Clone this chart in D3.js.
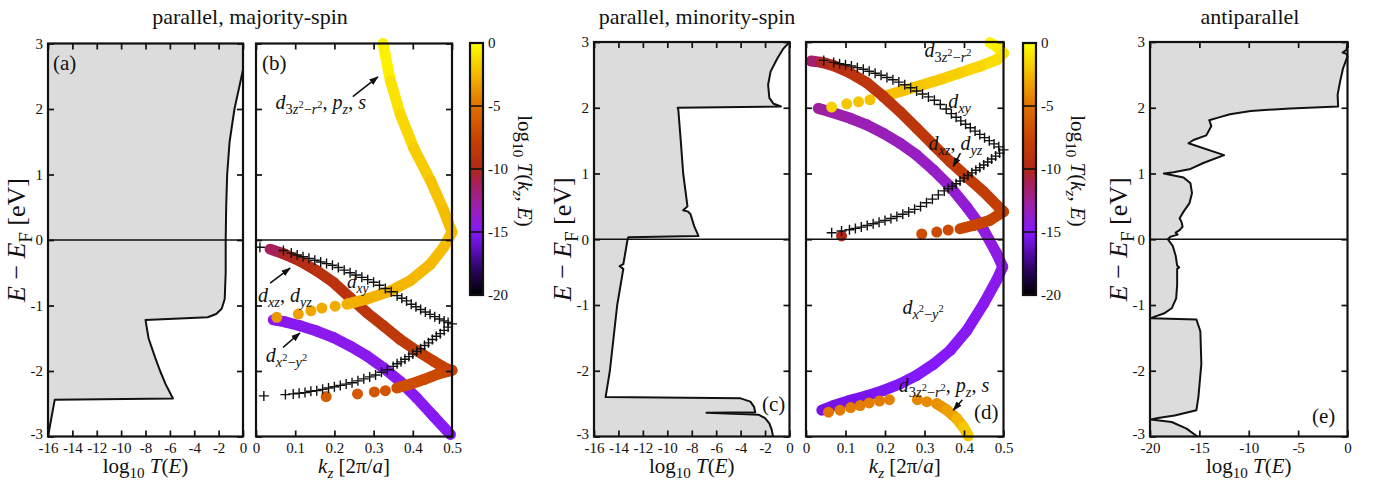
<!DOCTYPE html>
<html>
<head>
<meta charset="utf-8">
<script src="https://cdn.jsdelivr.net/npm/d3@7"></script>
<style>
  body { margin: 0; background: #fff; }
  svg { display: block; }
  text { font-family: "Liberation Serif", "Times New Roman", serif; fill: #111; }
</style>
</head>
<body>
<svg id="chart" width="1385" height="494"></svg>
<script>
// ---------- data ----------
// (a) parallel, majority-spin: log10 T(E)
const aE = [3.0, 2.6, 2.3, 2.0, 1.5, 1.0, 0.5, 0.0, -0.5, -0.9, -1.05, -1.13, -1.18, -1.22, -1.5, -1.8, -2.0, -2.2, -2.42, -2.44, -3.0];
const aT = [0, 0, -0.35, -0.7, -1.1, -1.3, -1.38, -1.42, -1.42, -1.5, -1.75, -2.2, -2.9, -8.0, -7.75, -7.2, -6.8, -6.35, -5.75, -15.45, -16];

// (c) parallel, minority-spin: log10 T(E)
const cE = [3.0, 2.9, 2.75, 2.55, 2.35, 2.15, 2.06, 2.02, 2.0, 1.97, 1.5, 1.0, 0.5, 0.44, 0.42, 0.38, 0.2, 0.05, 0.03, 0.0, -0.38, -0.41, -0.45, -1.0, -1.5, -2.0, -2.4, -2.42, -2.47, -2.55, -2.63, -2.64, -2.66, -2.67, -2.72, -2.8, -2.9, -3.0];
const cT = [0, -0.5, -1.0, -1.55, -1.75, -1.65, -1.3, -0.7, -9.15, -9.1, -8.9, -8.7, -8.35, -8.7, -8.3, -8.1, -7.8, -7.45, -13.2, -13.25, -13.6, -13.9, -13.6, -14.1, -14.4, -14.7, -15.05, -4.0, -3.2, -2.9, -2.8, -6.8, -3.5, -2.5, -2.0, -1.65, -1.45, -1.35];

// (e) antiparallel: log10 T(E)
const eE = [3.0, 2.88, 2.84, 2.82, 2.78, 2.6, 2.4, 2.2, 2.02, 1.99, 1.95, 1.9, 1.85, 1.81, 1.77, 1.72, 1.58, 1.51, 1.46, 1.28, 1.16, 1.07, 1.02, 1.0, 0.94, 0.85, 0.7, 0.55, 0.42, 0.32, 0.26, 0.19, 0.14, 0.1, 0.07, 0.04, 0.0, -0.1, -0.25, -0.4, -0.43, -0.45, -0.7, -0.9, -1.05, -1.13, -1.18, -1.2, -1.22, -1.4, -1.9, -2.4, -2.6, -2.68, -2.72, -2.74, -2.78, -2.88, -3.0];
const eT = [0, -0.1, -0.5, -0.1, 0, -0.45, -0.75, -1.0, -0.95, -5.8, -9.8, -11.9, -13.1, -14.0, -13.9, -13.8, -14.3, -15.6, -16.1, -12.5, -14.6, -15.9, -17.6, -18.6, -16.6, -15.9, -15.75, -16.0, -16.6, -17.0, -16.8, -16.7, -17.0, -17.4, -17.2, -17.9, -18.2, -17.7, -17.4, -17.25, -17.05, -17.25, -17.25, -17.35, -17.8, -18.6, -19.6, -19.9, -15.3, -14.9, -14.8, -15.1, -15.3, -17.5, -19.2, -19.9, -17.8, -16.3, -15.2];

// (b) majority bands: k_z, E, log10 T(k_z,E)
const bYellowK = [0.324, 0.343, 0.368, 0.402, 0.445, 0.479, 0.5, 0.479, 0.445, 0.394, 0.342, 0.283, 0.232];
const bYellowE = [3.0, 2.43, 1.92, 1.41, 0.91, 0.45, 0.12, -0.11, -0.37, -0.62, -0.78, -0.90, -0.98];
const bYellowT = [-0.2, -0.8, -1.2, -1.6, -2.0, -2.2, -2.3, -2.3, -2.4, -2.5, -2.6, -2.7, -2.8];
const bYellowDotK = [0.202, 0.168, 0.14, 0.108, 0.053];
const bYellowDotE = [-1.01, -1.04, -1.08, -1.13, -1.18];
const bYellowDotT = [-2.9, -3.0, -3.1, -3.3, -3.6];

const bRedK = [0.036, 0.07, 0.112, 0.155, 0.198, 0.24, 0.283, 0.325, 0.368, 0.41, 0.453, 0.487, 0.5, 0.462, 0.428, 0.394, 0.359];
const bRedE = [-0.14, -0.21, -0.32, -0.47, -0.65, -0.88, -1.11, -1.31, -1.52, -1.69, -1.85, -1.97, -1.99, -2.05, -2.13, -2.2, -2.26];
const bRedT = [-12, -10.5, -9.8, -9.3, -9, -9, -8.8, -8.7, -8.5, -8.3, -8.0, -7.8, -7.6, -7.4, -7.2, -7.0, -6.8];
const bRedDotK = [0.33, 0.302, 0.259, 0.179];
const bRedDotE = [-2.3, -2.32, -2.35, -2.39];
const bRedDotT = [-6.6, -6.5, -6.3, -6.2];

const bVioletK = [0.044, 0.074, 0.112, 0.155, 0.198, 0.24, 0.283, 0.325, 0.368, 0.41, 0.453, 0.496];
const bVioletE = [-1.22, -1.25, -1.31, -1.39, -1.49, -1.62, -1.77, -1.95, -2.16, -2.41, -2.69, -2.97];
const bVioletT = [-14.8, -14.6, -14.6, -14.5, -14.5, -14.5, -14.5, -14.5, -14.6, -14.6, -14.7, -14.8];

// (b) d_xy band (no transmission, "+" markers) [k_z, E]
const bPlus = [[0.01,-0.11],[0.07,-0.16],[0.09,-0.20],[0.105,-0.23],[0.12,-0.255],[0.135,-0.28],[0.15,-0.31],[0.165,-0.335],[0.18,-0.36],[0.195,-0.385],[0.21,-0.42],[0.225,-0.46],[0.24,-0.50],[0.255,-0.535],[0.27,-0.57],[0.285,-0.605],[0.30,-0.645],[0.315,-0.69],[0.33,-0.74],[0.345,-0.79],[0.36,-0.85],[0.372,-0.89],[0.384,-0.93],[0.396,-0.98],[0.408,-1.02],[0.42,-1.06],[0.432,-1.10],[0.444,-1.135],[0.456,-1.17],[0.468,-1.205],[0.48,-1.235],[0.49,-1.26],[0.5,-1.28],
  [0.49,-1.33],[0.48,-1.38],[0.47,-1.43],[0.46,-1.47],[0.45,-1.52],[0.44,-1.57],[0.43,-1.61],[0.42,-1.66],[0.41,-1.70],[0.40,-1.74],[0.39,-1.78],[0.38,-1.82],[0.37,-1.86],[0.36,-1.89],[0.35,-1.93],[0.335,-1.98],[0.32,-2.02],[0.305,-2.06],[0.29,-2.09],[0.275,-2.12],[0.26,-2.15],[0.245,-2.18],[0.23,-2.2],[0.215,-2.22],[0.2,-2.24],[0.185,-2.26],[0.17,-2.28],[0.155,-2.3],[0.14,-2.31],[0.125,-2.33],[0.11,-2.34],[0.095,-2.35],[0.075,-2.36],[0.02,-2.38]];

// (d) minority bands
const dYellowK = [0.466, 0.485, 0.5, 0.483, 0.44, 0.39, 0.34, 0.29, 0.24, 0.196];
const dYellowE = [2.99, 2.92, 2.83, 2.73, 2.63, 2.53, 2.43, 2.34, 2.25, 2.17];
const dYellowT = [-0.3, -0.5, -0.8, -1.0, -1.3, -1.6, -1.8, -2.0, -2.1, -2.2];
const dYellowDotK = [0.162, 0.133, 0.103, 0.065];
const dYellowDotE = [2.12, 2.09, 2.06, 2.01];
const dYellowDotT = [-2.2, -2.1, -2.0, -1.6];

const dRedK = [0.013, 0.04, 0.07, 0.112, 0.154, 0.196, 0.238, 0.28, 0.323, 0.365, 0.407, 0.45, 0.488, 0.5, 0.466, 0.424, 0.39];
const dRedE = [2.71, 2.69, 2.64, 2.53, 2.38, 2.17, 1.94, 1.69, 1.43, 1.18, 0.95, 0.72, 0.49, 0.42, 0.29, 0.21, 0.16];
const dRedT = [-12.3, -10.8, -9.5, -9.0, -8.8, -8.8, -8.8, -8.7, -8.6, -8.5, -8.4, -8.2, -8.0, -7.9, -7.7, -7.5, -7.3];
const dRedDotK = [0.36, 0.331, 0.293, 0.09];
const dRedDotE = [0.14, 0.11, 0.08, 0.05];
const dRedDotT = [-7.2, -7.1, -7.0, -10];

const dPurpleK = [0.031, 0.061, 0.112, 0.154, 0.196, 0.238, 0.28, 0.323, 0.365, 0.407, 0.45, 0.483, 0.498, 0.483, 0.45, 0.407, 0.365, 0.323, 0.28, 0.238, 0.196, 0.154, 0.112, 0.07, 0.04];
const dPurpleE = [1.99, 1.94, 1.84, 1.74, 1.61, 1.46, 1.28, 1.05, 0.8, 0.49, 0.14, -0.22, -0.42, -0.62, -0.98, -1.39, -1.69, -1.9, -2.07, -2.2, -2.3, -2.38, -2.45, -2.53, -2.6];
const dPurpleT = [-12.5, -12.8, -13, -13.1, -13.2, -13.3, -13.4, -13.5, -13.7, -13.9, -14.1, -14.3, -14.4, -14.5, -14.6, -14.7, -14.8, -14.9, -15.0, -15.1, -15.2, -15.3, -15.4, -15.5, -15.6];

const dOrangeDotK = [0.057, 0.086, 0.113, 0.137, 0.16, 0.186, 0.211, 0.282, 0.306, 0.331];
const dOrangeDotE = [-2.63, -2.6, -2.56, -2.53, -2.49, -2.46, -2.44, -2.44, -2.47, -2.5];
const dOrangeDotT = [-4.8, -4.7, -4.6, -4.6, -4.5, -4.5, -4.4, -4.2, -4.1, -4.0];
const dOrangeK = [0.331, 0.357, 0.382, 0.399, 0.411];
const dOrangeE = [-2.5, -2.6, -2.73, -2.86, -2.99];
const dOrangeT = [-4.0, -3.6, -3.0, -2.2, -1.5];

const dPlus = [[0.045,2.72],[0.07,2.69],[0.085,2.67],[0.1,2.655],[0.115,2.635],[0.13,2.61],[0.145,2.585],[0.16,2.555],[0.175,2.525],[0.19,2.495],[0.205,2.46],[0.22,2.425],[0.235,2.39],[0.25,2.35],[0.265,2.305],[0.28,2.255],[0.295,2.21],[0.31,2.165],[0.325,2.115],[0.34,2.05],[0.355,1.98],[0.368,1.91],[0.38,1.855],[0.392,1.8],[0.404,1.75],[0.416,1.695],[0.428,1.645],[0.44,1.595],[0.452,1.545],[0.464,1.5],[0.476,1.45],[0.488,1.405],[0.5,1.36],
  [0.49,1.31],[0.48,1.265],[0.47,1.22],[0.46,1.175],[0.45,1.13],[0.44,1.09],[0.43,1.05],[0.42,1.01],[0.41,0.97],[0.40,0.93],[0.39,0.885],[0.38,0.845],[0.37,0.805],[0.36,0.77],[0.35,0.735],[0.335,0.675],[0.32,0.61],[0.305,0.555],[0.29,0.5],[0.275,0.455],[0.26,0.415],[0.245,0.38],[0.23,0.345],[0.215,0.315],[0.2,0.285],[0.185,0.26],[0.17,0.235],[0.155,0.21],[0.14,0.185],[0.125,0.165],[0.11,0.145],[0.09,0.125],[0.065,0.1]];

// axis ticks
const energyTicks = [-3, -2, -1, 0, 1, 2, 3];
const logTicks16 = [-16, -14, -12, -10, -8, -6, -4, -2, 0];
const logTicks20 = [-20, -15, -10, -5, 0];
const kTicks = [0, 0.1, 0.2, 0.3, 0.4, 0.5];
const cbarTicks = [0, -5, -10, -15, -20];

// colour map for log10 T(k_z,E)
const cmapStops = [-20, -18, -16, -15, -13, -11, -10, -7.5, -5, -2.5, 0];
const cmapColors = ["#000000", "#2a0560", "#6a10d0", "#8418ff", "#9c20b0", "#a82050", "#b02818", "#c84400", "#e07000", "#f4b800", "#ffff00"];

const titles = ["parallel, majority-spin", "parallel, minority-spin", "antiparallel"];

// ---------- layout ----------
const P = {
  a: { x0: 48,   x1: 243,    y0: 43.5, y1: 436.5 },
  b: { x0: 256,  x1: 452,    y0: 43.5, y1: 436.5 },
  c: { x0: 594,  x1: 789.5,  y0: 42,   y1: 436.5 },
  d: { x0: 806,  x1: 1003.5, y0: 42,   y1: 436.5 },
  e: { x0: 1150, x1: 1347.5, y0: 42,   y1: 436.5 }
};
const CB = {
  b: { x0: 470, x1: 483, y0: 43, y1: 295 },
  d: { x0: 1023, x1: 1036, y0: 43, y1: 295 }
};

const svg = d3.select("#chart");
const color = d3.scaleLinear().domain(cmapStops).range(cmapColors).interpolate(d3.interpolateRgb);

const defs = svg.append("defs");
defs.append("marker")
  .attr("id", "arrowHead")
  .attr("viewBox", "0 0 10 10")
  .attr("refX", 9).attr("refY", 5)
  .attr("markerWidth", 6).attr("markerHeight", 6)
  .attr("orient", "auto")
  .append("path").attr("d", "M0,1.5L10,5L0,8.5z").attr("fill", "#111");

const grad = defs.append("linearGradient")
  .attr("id", "cbarGrad")
  .attr("x1", 0).attr("y1", 1).attr("x2", 0).attr("y2", 0);
cmapStops.forEach((s, i) => {
  grad.append("stop").attr("offset", (s + 20) / 20).attr("stop-color", cmapColors[i]);
});

// rich text: parts = [text, italic, scale, shift(em, + down)]
const R = t => [t, false, 1, 0];
const I = t => [t, true, 1, 0];
const Sb = t => [t, false, 0.72, 0.25];
const SbI = t => [t, true, 0.72, 0.25];
const SbSp = t => [t, false, 0.52, -0.06];

function rich (sel, parts, size) {
  let prev = 0;
  parts.forEach(([t, it, sc, sh]) => {
    sel.append("tspan")
      .attr("font-style", it ? "italic" : "normal")
      .attr("font-size", size * sc)
      .attr("dy", ((sh - prev) * size).toFixed(2))
      .text(t);
    prev = sh;
  });
  return sel;
}

const LOGT_LABEL = [R("log"), Sb("10"), R(" "), I("T"), R("("), I("E"), R(")")];
const KZ_LABEL = [I("k"), SbI("z"), R(" [2π/"), I("a"), R("]")];
const E_LABEL = [I("E"), R(" − "), I("E"), Sb("F"), R(" [eV]")];
const CB_LABEL = [R("log"), Sb("10"), R(" "), I("T"), R("("), I("k"), SbI("z"), R(", "), I("E"), R(")")];
const D3Z = [I("d"), Sb("3"), SbI("z"), SbSp("2"), Sb("−"), SbI("r"), SbSp("2")];
const DX2Y2 = [I("d"), SbI("x"), SbSp("2"), Sb("−"), SbI("y"), SbSp("2")];
const DXZ = [I("d"), SbI("xz"), R(", "), I("d"), SbI("yz")];
const DXY = [I("d"), SbI("xy")];
const PZS = [R(", "), I("p"), SbI("z"), R(", "), I("s")];

function makePanel (p, xDomain) {
  const x = d3.scaleLinear().domain(xDomain).range([p.x0, p.x1]);
  const y = d3.scaleLinear().domain([-3, 3]).range([p.y1, p.y0]);
  return { x, y, g: svg.append("g") };
}

function drawFrame (panel, p, xTicks, xFmt, showYLabels, xLabel) {
  const { x, y } = panel;
  const g = svg.append("g");
  // E = 0 line
  g.append("line")
    .attr("x1", p.x0).attr("x2", p.x1)
    .attr("y1", y(0)).attr("y2", y(0))
    .attr("stroke", "#111").attr("stroke-width", 1.3);

  const bottom = g.append("g").attr("transform", `translate(0,${p.y1})`)
    .call(d3.axisBottom(x).tickValues(xTicks).tickSize(-6).tickPadding(6).tickFormat(xFmt));
  const top = g.append("g").attr("transform", `translate(0,${p.y0})`)
    .call(d3.axisTop(x).tickValues(xTicks).tickSize(-6).tickFormat(""));
  const left = g.append("g").attr("transform", `translate(${p.x0},0)`)
    .call(d3.axisLeft(y).tickValues(energyTicks).tickSize(-6).tickPadding(5)
      .tickFormat(showYLabels ? (d => String(d)) : ""));
  const right = g.append("g").attr("transform", `translate(${p.x1},0)`)
    .call(d3.axisRight(y).tickValues(energyTicks).tickSize(-6).tickFormat(""));

  [bottom, top, left, right].forEach(ax => {
    ax.select(".domain").remove();
    ax.selectAll(".tick line").attr("stroke", "#111").attr("stroke-width", 1.7);
    ax.selectAll(".tick text")
      .attr("font-family", '"Liberation Serif", serif')
      .attr("font-size", 15).attr("fill", "#111");
  });
  // lift the lowest energy label a little so it clears the x tick labels
  left.selectAll(".tick text").filter(d => d === -3).attr("dy", "0.12em");

  g.append("rect")
    .attr("x", p.x0).attr("y", p.y0)
    .attr("width", p.x1 - p.x0).attr("height", p.y1 - p.y0)
    .attr("fill", "none").attr("stroke", "#111").attr("stroke-width", 2.2);

  rich(g.append("text")
    .attr("x", (p.x0 + p.x1) / 2).attr("y", 473)
    .attr("text-anchor", "middle"), xLabel, 21);

  if (showYLabels) {
    rich(g.append("text")
      .attr("transform", `translate(${p.x0 - 23},${y(0)}) rotate(-90)`)
      .attr("text-anchor", "middle"), E_LABEL, 26);
  }
}

function drawTransmission (panel, xMin, Es, Ts) {
  const { x, y, g } = panel;
  const pts = Es.map((e, i) => ({ e, t: Ts[i] }));
  g.append("path").datum(pts)
    .attr("fill", "#dcdcdc")
    .attr("d", d3.area().y(d => y(d.e)).x0(x(xMin)).x1(d => x(d.t)));
  g.append("path").datum(pts)
    .attr("fill", "none").attr("stroke", "#111").attr("stroke-width", 2)
    .attr("stroke-linejoin", "round")
    .attr("d", d3.line().x(d => x(d.t)).y(d => y(d.e)));
}

function drawBandLine (panel, ks, Es, Ts) {
  const { x, y, g } = panel;
  for (let i = 0; i < ks.length - 1; i++) {
    g.append("line")
      .attr("x1", x(ks[i])).attr("y1", y(Es[i]))
      .attr("x2", x(ks[i + 1])).attr("y2", y(Es[i + 1]))
      .attr("stroke", color((Ts[i] + Ts[i + 1]) / 2))
      .attr("stroke-width", 11)
      .attr("stroke-linecap", "round");
  }
}

function drawBandDots (panel, ks, Es, Ts) {
  const { x, y, g } = panel;
  g.selectAll(null).data(ks.map((k, i) => ({ k, e: Es[i], t: Ts[i] })))
    .enter().append("circle")
    .attr("cx", d => x(d.k)).attr("cy", d => y(d.e)).attr("r", 5.5)
    .attr("fill", d => color(d.t));
}

function drawPlus (panel, pts) {
  const { x, y, g } = panel;
  g.selectAll(null).data(pts).enter().append("path")
    .attr("transform", d => `translate(${x(d[0])},${y(d[1])})`)
    .attr("d", "M-5,0H5M0,-5V5")
    .attr("stroke", "#111").attr("stroke-width", 1.4).attr("fill", "none");
}

function annotate (panel, k, e, parts, size) {
  rich(svg.append("text").attr("x", panel.x(k)).attr("y", panel.y(e)), parts, size || 20);
}

function arrow (panel, k1, e1, k2, e2) {
  svg.append("line")
    .attr("x1", panel.x(k1)).attr("y1", panel.y(e1))
    .attr("x2", panel.x(k2)).attr("y2", panel.y(e2))
    .attr("stroke", "#111").attr("stroke-width", 1.6)
    .attr("marker-end", "url(#arrowHead)");
}

function drawColorbar (cb) {
  const s = d3.scaleLinear().domain([-20, 0]).range([cb.y1, cb.y0]);
  const g = svg.append("g");
  g.append("rect")
    .attr("x", cb.x0).attr("y", cb.y0)
    .attr("width", cb.x1 - cb.x0).attr("height", cb.y1 - cb.y0)
    .attr("fill", "url(#cbarGrad)");
  g.selectAll(null).data([-5, -10, -15]).enter().append("line")
    .attr("x1", cb.x0).attr("x2", cb.x1)
    .attr("y1", d => s(d)).attr("y2", d => s(d))
    .attr("stroke", "#111").attr("stroke-width", 1.6);
  g.append("rect")
    .attr("x", cb.x0).attr("y", cb.y0)
    .attr("width", cb.x1 - cb.x0).attr("height", cb.y1 - cb.y0)
    .attr("fill", "none").attr("stroke", "#111").attr("stroke-width", 2.2);
  g.selectAll(null).data(cbarTicks).enter().append("text")
    .attr("x", cb.x1 + 5).attr("y", d => s(d))
    .attr("dy", "0.35em").attr("font-size", 15)
    .text(d => String(d));
  rich(g.append("text")
    .attr("transform", `translate(${cb.x1 + 35},${(cb.y0 + cb.y1) / 2 + 2}) rotate(90)`)
    .attr("text-anchor", "middle"), CB_LABEL, 21);
}

const kFmt = d => d === 0 ? "0" : d3.format(".1f")(d);
const intFmt = d => String(d);

// ---------- panel (a) ----------
const pa = makePanel(P.a, [-16, 0]);
drawTransmission(pa, -16, aE, aT);
drawFrame(pa, P.a, logTicks16, intFmt, true, LOGT_LABEL);
svg.append("text").attr("x", 53).attr("y", 70).attr("font-size", 21).text("(a)");

// ---------- panel (b) ----------
const pb = makePanel(P.b, [0, 0.5]);
drawBandLine(pb, bVioletK, bVioletE, bVioletT);
drawBandLine(pb, bRedK, bRedE, bRedT);
drawBandDots(pb, bRedDotK, bRedDotE, bRedDotT);
drawBandLine(pb, bYellowK, bYellowE, bYellowT);
drawBandDots(pb, bYellowDotK, bYellowDotE, bYellowDotT);
drawPlus(pb, bPlus);
drawFrame(pb, P.b, kTicks, kFmt, false, KZ_LABEL);
svg.append("text").attr("x", 262).attr("y", 70).attr("font-size", 21).text("(b)");
annotate(pb, 0.05, 2.0, D3Z.concat(PZS));
arrow(pb, 0.247, 2.19, 0.311, 2.49);
annotate(pb, 0.232, -0.73, DXY, 19);
arrow(pb, 0.036, -0.66, 0.087, -0.43);
annotate(pb, 0.005, -0.95, DXZ);
arrow(pb, 0.069, -1.64, 0.112, -1.42);
annotate(pb, 0.025, -1.87, DX2Y2);
drawColorbar(CB.b);

// ---------- panel (c) ----------
const pc = makePanel(P.c, [-16, 0]);
drawTransmission(pc, -16, cE, cT);
drawFrame(pc, P.c, logTicks16, intFmt, true, LOGT_LABEL);
svg.append("text").attr("x", 762).attr("y", 411).attr("font-size", 21).text("(c)");

// ---------- panel (d) ----------
const pd = makePanel(P.d, [0, 0.5]);
drawBandLine(pd, dPurpleK, dPurpleE, dPurpleT);
drawBandLine(pd, dYellowK, dYellowE, dYellowT);
drawBandDots(pd, dYellowDotK, dYellowDotE, dYellowDotT);
drawBandLine(pd, dRedK, dRedE, dRedT);
drawBandDots(pd, dRedDotK, dRedDotE, dRedDotT);
drawBandDots(pd, dOrangeDotK, dOrangeDotE, dOrangeDotT);
drawBandLine(pd, dOrangeK, dOrangeE, dOrangeT);
drawPlus(pd, dPlus);
drawFrame(pd, P.d, kTicks, kFmt, false, KZ_LABEL);
svg.append("text").attr("x", 974).attr("y", 419).attr("font-size", 21).text("(d)");
annotate(pd, 0.3, 2.77, D3Z);
annotate(pd, 0.36, 1.99, DXY);
annotate(pd, 0.31, 1.36, DXZ);
arrow(pd, 0.391, 1.31, 0.373, 1.11);
annotate(pd, 0.244, -1.13, DX2Y2);
annotate(pd, 0.235, -2.33, D3Z.concat(PZS));
arrow(pd, 0.396, -2.44, 0.373, -2.6);
drawColorbar(CB.d);

// ---------- panel (e) ----------
const pe = makePanel(P.e, [-20, 0]);
drawTransmission(pe, -20, eE, eT);
drawFrame(pe, P.e, logTicks20, intFmt, true, LOGT_LABEL);
svg.append("text").attr("x", 1312).attr("y", 423).attr("font-size", 21).text("(e)");

// ---------- titles ----------
svg.selectAll(".title").data(titles).enter().append("text")
  .attr("class", "title")
  .attr("x", (d, i) => [250, 697, 1250][i]).attr("y", 24)
  .attr("text-anchor", "middle").attr("font-size", 22)
  .text(d => d);
</script>
</body>
</html>
